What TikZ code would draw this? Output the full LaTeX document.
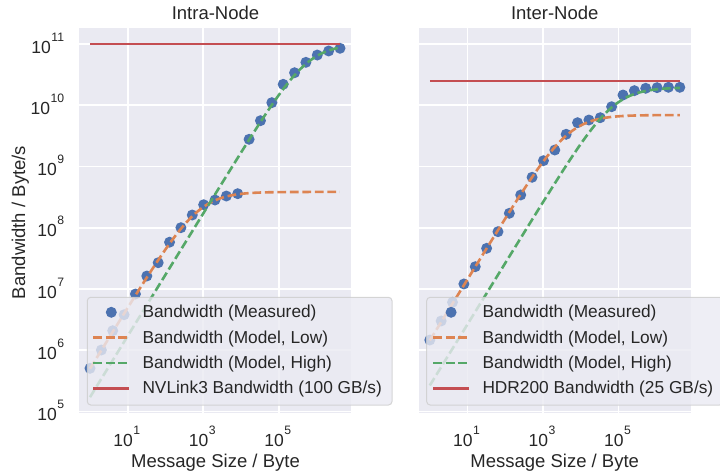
\documentclass[tikz,border=0pt]{standalone}
\usepackage{fontspec}
\setmainfont{Liberation Sans}

% seaborn "deep" palette and darkgrid look
\definecolor{axbg}{HTML}{EAEAF2}
\definecolor{txt}{HTML}{262626}
\definecolor{sbblue}{HTML}{4C72B0}
\definecolor{sborange}{HTML}{DD8452}
\definecolor{sbgreen}{HTML}{55A868}
\definecolor{sbred}{HTML}{C44E52}
\definecolor{legedge}{HTML}{CCCCCC}

\newcommand\labfont{\fontsize{18.5}{20}\selectfont}
\newcommand\legfont{\fontsize{17.3}{19}\selectfont}
\newcommand\tickfont{\fontsize{17.5}{19}\selectfont}
\newcommand\supfont{\fontsize{12.2}{13}\selectfont}
% power-of-ten tick label
\newcommand\pw[1]{{\tickfont 10\kern0.5pt\raisebox{12pt}{\supfont #1}}}

\tikzset{
  axesbg/.style={fill=axbg},
  gridline/.style={draw=white, line width=1.6pt},
  measured/.style={fill=sbblue},
  lowmodel/.style={draw=sborange, line width=2.6pt, dash pattern=on 8.7pt off 3.8pt},
  highmodel/.style={draw=sbgreen, line width=2.6pt, dash pattern=on 8.7pt off 3.8pt},
  linkbw/.style={draw=sbred, line width=2.6pt},
  legendbox/.style={fill=axbg, fill opacity=0.8, draw=legedge, draw opacity=0.8,
                    line width=1pt, rounded corners=3.5pt},
  legtext/.style={anchor=base west, inner sep=0pt, font=\legfont, text=txt},
  ticklab/.style={inner sep=0pt, text=txt},
  axlabel/.style={inner sep=0pt, font=\labfont, text=txt, anchor=base},
  % panel frame: x in log2(bytes), y in log10(bandwidth)
  panel/.style={shift={(#1,717.75)}, x=11.364pt, y=61.25pt},
}

\begin{document}
\begin{tikzpicture}[x=1pt, y=-1pt,
  declare function={
    % Hockney model  B(n) = n / (a + n/b), evaluated in log10 space
    lgu(\k,\la,\lb) = 0.30103*\k - \la - \lb;
    lgbw(\k,\la,\lb) = 0.30103*\k - \la - max(lgu(\k,\la,\lb),0)
       - ln(1 + exp(-2.302585*abs(lgu(\k,\la,\lb))))/2.302585;
  }]
\useasboundingbox (0,0) rectangle (720,473);

% ---------------- Intra-Node ----------------
\begin{scope}[panel=90]
  \fill[axesbg] (-0.968,4.976) rectangle (22.94,11.256);
  \foreach \e in {5,...,11} \draw[gridline] (-0.968,\e) -- (22.94,\e);
  \foreach \g in {3.3219,9.9658,16.6096} \draw[gridline] (\g,4.976) -- (\g,11.256);
  \foreach \k/\v in {0/5.705,1/6.004,2/6.319,3/6.580,4/6.918,5/7.212,6/7.429,7/7.764,
                     8/8.001,9/8.208,10/8.376,11/8.453,12/8.518,13/8.556,14/9.444,
                     15/9.748,16/10.042,17/10.342,18/10.531,19/10.701,20/10.820,
                     21/10.886,22/10.930}
    \fill[measured] (\k,\v) circle[radius=5.5pt];
  \draw[lowmodel] plot[domain=0:22, samples=120, smooth] (\x,{lgbw(\x,-5.70,8.585)});
  \draw[highmodel] plot[domain=0:22, samples=120, smooth] (\x,{lgbw(\x,-5.234,11.0)});
  \draw[linkbw] (0,11) -- (22,11);
\end{scope}

% legend, Intra-Node
\draw[legendbox] (87.3,297.3) rectangle (392,405);
\fill[measured] (111.3,312.3) circle[radius=5.5pt];
\draw[lowmodel] (93.3,337.6) -- (129.3,337.6);
\draw[highmodel] (93.3,362.9) -- (129.3,362.9);
\draw[linkbw] (93.3,388.2) -- (129.3,388.2);
\node[legtext] (la1) at (142.3,317.8) {Bandwidth (Measured)};
\node[legtext] (la2) at (142.3,343.1) {Bandwidth (Model, Low)};
\node[legtext] (la3) at (142.3,368.4) {Bandwidth (Model, High)};
\node[legtext] (la4) at (142.3,393.7) {NVLink3 Bandwidth (100 GB/s)};

% ---------------- Inter-Node ----------------
\begin{scope}[panel=429.8]
  \fill[axesbg] (-0.968,4.976) rectangle (22.96,11.256);
  \foreach \e in {5,...,11} \draw[gridline] (-0.968,\e) -- (22.96,\e);
  \foreach \g in {3.3219,9.9658,16.6096} \draw[gridline] (\g,4.976) -- (\g,11.256);
  \foreach \k/\v in {0/6.167,1/6.478,2/6.783,3/7.082,4/7.364,5/7.664,6/7.936,7/8.236,
                     8/8.535,9/8.824,10/9.095,11/9.269,12/9.526,13/9.715,14/9.759,
                     15/9.797,16/9.976,17/10.167,18/10.238,19/10.277,20/10.287,
                     21/10.293,22/10.293}
    \fill[measured] (\k,\v) circle[radius=5.5pt];
  \draw[lowmodel] plot[domain=0:22, samples=120, smooth] (\x,{lgbw(\x,-6.16,9.84)});
  \draw[highmodel] plot[domain=0:22, samples=120, smooth] (\x,{lgbw(\x,-5.425,10.29)});
  \draw[linkbw] (0,10.398) -- (22,10.398);
\end{scope}

% legend, Inter-Node
\draw[legendbox] (426.7,297.3) rectangle (723,405);
\fill[measured] (451.1,312.3) circle[radius=5.5pt];
\draw[lowmodel] (433.3,337.6) -- (469.3,337.6);
\draw[highmodel] (433.3,362.9) -- (469.3,362.9);
\draw[linkbw] (433.3,388.2) -- (469.3,388.2);
\node[legtext] (lb1) at (482.3,317.8) {Bandwidth (Measured)};
\node[legtext] (lb2) at (482.3,343.1) {Bandwidth (Model, Low)};
\node[legtext] (lb3) at (482.3,368.4) {Bandwidth (Model, High)};
\node[legtext] (lb4) at (482.3,393.7) {HDR200 Bandwidth (25 GB/s)};

% y tick labels (shared axis)
\foreach \e/\yb in {11/53.2,10/114.45,9/175.7,8/236.95,7/298.2,6/359.45,5/420.7}
  \node[ticklab, anchor=base east] (yt\e) at (64.3,\yb) {\pw{\e}};

% x tick labels
\foreach \e/\xa/\xb in {1/127.75/467.55,3/203.25/543.05,5/278.75/618.55}{
  \node[ticklab, anchor=base] (xa\e) at (\xa-1,446.7) {\pw{\e}};
  \node[ticklab, anchor=base] (xb\e) at (\xb-1,446.7) {\pw{\e}};
}

% titles and axis labels
\node[axlabel] (ta) at (215.5,20) {Intra-Node};
\node[axlabel] (tb) at (554.7,20) {Inter-Node};
\node[axlabel] (xla) at (215.5,467) {Message Size / Byte};
\node[axlabel] (xlb) at (554.7,467) {Message Size / Byte};
\node[axlabel, rotate=90] (yl) at (25,222.5) {Bandwidth / Byte/s};
\end{tikzpicture}
\end{document}
